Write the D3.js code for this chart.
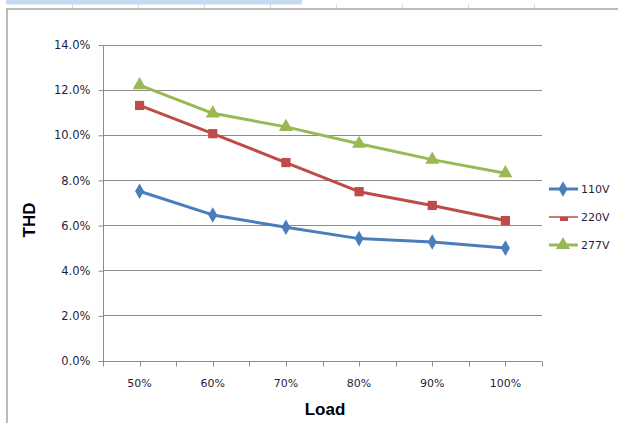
<!DOCTYPE html>
<html>
<head>
<meta charset="utf-8">
<script src="https://cdn.jsdelivr.net/npm/d3@7"></script>
<style>
  html, body { margin: 0; padding: 0; background: #fff; }
  svg { display: block; }
</style>
</head>
<body>
<svg id="chart" width="618" height="423"></svg>
<script>
// THD vs. load for three input voltages
const loads = ["50%", "60%", "70%", "80%", "90%", "100%"];
const thd110 = [7.5, 6.45, 5.9, 5.4, 5.25, 4.98];
const thd220 = [11.3, 10.05, 8.77, 7.48, 6.87, 6.2];
const thd277 = [12.2, 10.95, 10.35, 9.6, 8.9, 8.3];
const seriesNames = ["110V", "220V", "277V"];
const yTicks = [0, 2, 4, 6, 8, 10, 12, 14];

const series = [
  { name: seriesNames[0], values: thd110, color: "#4a7ebb", marker: "diamond" },
  { name: seriesNames[1], values: thd220, color: "#be4b48", marker: "square" },
  { name: seriesNames[2], values: thd277, color: "#98b954", marker: "triangle" }
];

const svg = d3.select("#chart");
const plot = { left: 103, right: 542, top: 44.5, bottom: 360.5 };

const x = d3.scaleBand().domain(loads).range([plot.left, plot.right]).padding(0);
const y = d3.scaleLinear().domain([0, 14]).range([plot.bottom, plot.top]);

// spreadsheet frame behind the chart
svg.append("rect").attr("x", 6).attr("y", 0).attr("width", 296).attr("height", 4.5).attr("fill", "#c6d9f1");
svg.append("line").attr("x1", 6).attr("x2", 618).attr("y1", 9).attr("y2", 9)
  .attr("stroke", "#a6a6a6").attr("stroke-width", 1.5);
svg.append("line").attr("x1", 7).attr("x2", 7).attr("y1", 9).attr("y2", 423)
  .attr("stroke", "#a6a6a6").attr("stroke-width", 1.5);
[72, 138, 204, 270, 336, 402, 468, 534].forEach(cx => {
  svg.append("line").attr("x1", cx + 0.5).attr("x2", cx + 0.5).attr("y1", 4.5).attr("y2", 8)
    .attr("stroke", "#d0d7e5").attr("stroke-width", 1);
});

// horizontal gridlines
svg.append("g").selectAll("line").data(yTicks).join("line")
  .attr("x1", plot.left).attr("x2", plot.right)
  .attr("y1", d => Math.round(y(d)) + 0.5).attr("y2", d => Math.round(y(d)) + 0.5)
  .attr("stroke", "#8c8c8c").attr("stroke-width", 1);

// y axis
const yAxis = d3.axisLeft(y).tickValues(yTicks).tickFormat(d => d.toFixed(1) + "%").tickSize(5).tickPadding(8);
const gy = svg.append("g").attr("transform", `translate(${plot.left + 0.5},0.5)`).call(yAxis);
gy.select(".domain").attr("stroke", "#8c8c8c").attr("d", `M0,${plot.top}V${plot.bottom}`);
gy.selectAll(".tick line").attr("stroke", "#8c8c8c");
gy.selectAll(".tick text").attr("font-family", "DejaVu Sans").attr("font-size", 11.5).attr("fill", "#1f1f3a");

// x axis: ticks at category edges and centres
const xTickPos = [];
loads.forEach(l => { xTickPos.push(x(l)); xTickPos.push(x(l) + x.bandwidth() / 2); });
xTickPos.push(plot.right);
const gx = svg.append("g").attr("transform", `translate(0,${Math.round(plot.bottom) + 0.5})`);
gx.append("line").attr("x1", plot.left).attr("x2", plot.right).attr("stroke", "#8c8c8c");
gx.selectAll("line.tk").data(xTickPos).join("line").attr("class", "tk")
  .attr("x1", d => Math.round(d) + 0.5).attr("x2", d => Math.round(d) + 0.5)
  .attr("y1", 0).attr("y2", 5).attr("stroke", "#8c8c8c");
gx.selectAll("text").data(loads).join("text")
  .attr("x", d => x(d) + x.bandwidth() / 2).attr("y", 25)
  .attr("text-anchor", "middle").attr("font-family", "DejaVu Sans").attr("font-size", 11)
  .attr("fill", "#1f1f3a").text(d => d);

// axis titles
svg.append("text").attr("x", 325).attr("y", 415).attr("text-anchor", "middle")
  .attr("font-family", "Liberation Sans, Arial, sans-serif").attr("font-weight", "bold")
  .attr("font-size", 17).attr("fill", "#000").text("Load");
svg.append("text").attr("transform", "translate(35,220) rotate(-90)").attr("text-anchor", "middle")
  .attr("font-family", "Liberation Sans, Arial, sans-serif").attr("font-weight", "bold")
  .attr("font-size", 17).attr("fill", "#000").text("THD");

// marker shapes
const symbolFor = {
  diamond: d3.symbol().type(d3.symbolDiamond).size(70),
  square: d3.symbol().type(d3.symbolSquare).size(85),
  triangle: d3.symbol().type(d3.symbolTriangle).size(85)
};

const line = d3.line().x((d, i) => x(loads[i]) + x.bandwidth() / 2).y(d => y(d));

series.forEach(s => {
  svg.append("path").datum(s.values).attr("d", line)
    .attr("fill", "none").attr("stroke", s.color).attr("stroke-width", 3)
    .attr("stroke-linejoin", "round").attr("stroke-linecap", "round");
  svg.append("g").selectAll("path").data(s.values).join("path")
    .attr("d", symbolFor[s.marker])
    .attr("transform", (d, i) => `translate(${x(loads[i]) + x.bandwidth() / 2},${y(d)})`)
    .attr("fill", s.color);
});

// legend
const legendY = [189, 217, 245];
series.forEach((s, i) => {
  const g = svg.append("g").attr("transform", `translate(549,${legendY[i]})`);
  if (s.marker === "square") {
    g.append("line").attr("x1", 0).attr("x2", 29).attr("y1", 0).attr("y2", 0)
      .attr("stroke", s.color).attr("stroke-width", 1.5);
    g.append("rect").attr("x", 11).attr("y", 0).attr("width", 8).attr("height", 4).attr("fill", s.color);
  } else {
    g.append("line").attr("x1", 0).attr("x2", 29).attr("y1", 0).attr("y2", 0)
      .attr("stroke", s.color).attr("stroke-width", 3);
    g.append("path").attr("d", symbolFor[s.marker]).attr("transform", "translate(14,0)").attr("fill", s.color);
  }
  g.append("text").attr("x", 32).attr("y", 4).attr("font-family", "DejaVu Sans").attr("font-size", 11)
    .attr("fill", "#1f1f3a").text(s.name);
});
</script>
</body>
</html>
